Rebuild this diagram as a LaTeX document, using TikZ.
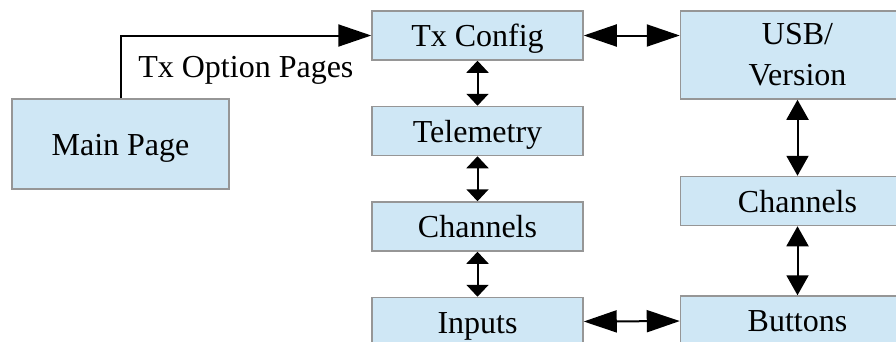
\documentclass[tikz,border=0pt]{standalone}
\usepackage{fontspec}
\setmainfont{Liberation Serif}
\usepackage{tikz}
\usetikzlibrary{arrows.meta,positioning}
\definecolor{boxfill}{RGB}{207,231,245}
\definecolor{boxline}{RGB}{150,150,150}

\begin{document}
\begin{tikzpicture}[
        node distance=45pt,
        page/.style={rectangle, draw=boxline, fill=boxfill, line width=1.5pt, inner sep=0pt, minimum width=211pt, minimum height=49pt, text height=22pt, text depth=0pt, align=center, font=\fontsize{32}{41}\selectfont},
        widepage/.style={page, minimum width=234pt},
        link/.style={line width=2pt, arrows={Triangle[length=#1,width=22pt]-Triangle[length=#1,width=22pt]}},
        oneway/.style={line width=2pt, -{Triangle[length=33pt,width=22pt]}},
        caption/.style={inner sep=0pt, text height=22pt, text depth=0pt, font=\fontsize{32}{41}\selectfont}
    ]
    \useasboundingbox (0,0) rectangle (896pt,-341pt);
    \clip (0,0) rectangle (896pt,-341pt);
    % Left column
    \node[page] (txcfg) at (477.5pt,-35.5pt) {Tx Config};
    \node[page, below=of txcfg] (telem) {Telemetry};
    \node[page, below=of telem] (chanl) {Channels};
    \node[page, below=of chanl] (inputs) {Inputs};
    % Right column
    \node[widepage, minimum height=88pt, text height=, text depth=, right=96pt of txcfg.north east, anchor=north west] (usb) {USB/\\Version};
    \node[widepage, below=76pt of usb] (chanr) {Channels};
    \node[widepage, below=69pt of chanr] (buttons) {Buttons};
    % Main page
    \node[page, minimum width=217pt, minimum height=90pt] (main) at (120.5pt,-144pt) {Main Page};
    % Arrows
    \draw[oneway] (main.north) |- node[caption, pos=0.75, below=19pt] {Tx Option Pages} (txcfg.west);
    \draw[link=33pt] (txcfg.east) -- (usb.west |- txcfg.east);
    \draw[link=12pt] (txcfg) -- (telem);
    \draw[link=12pt] (telem) -- (chanl);
    \draw[link=12pt] (chanl) -- (inputs);
    \draw[link=20pt] (usb) -- (chanr);
    \draw[link=20pt] (chanr) -- (buttons);
    \draw[link=33pt] (inputs) -- (buttons);
\end{tikzpicture}
\end{document}
